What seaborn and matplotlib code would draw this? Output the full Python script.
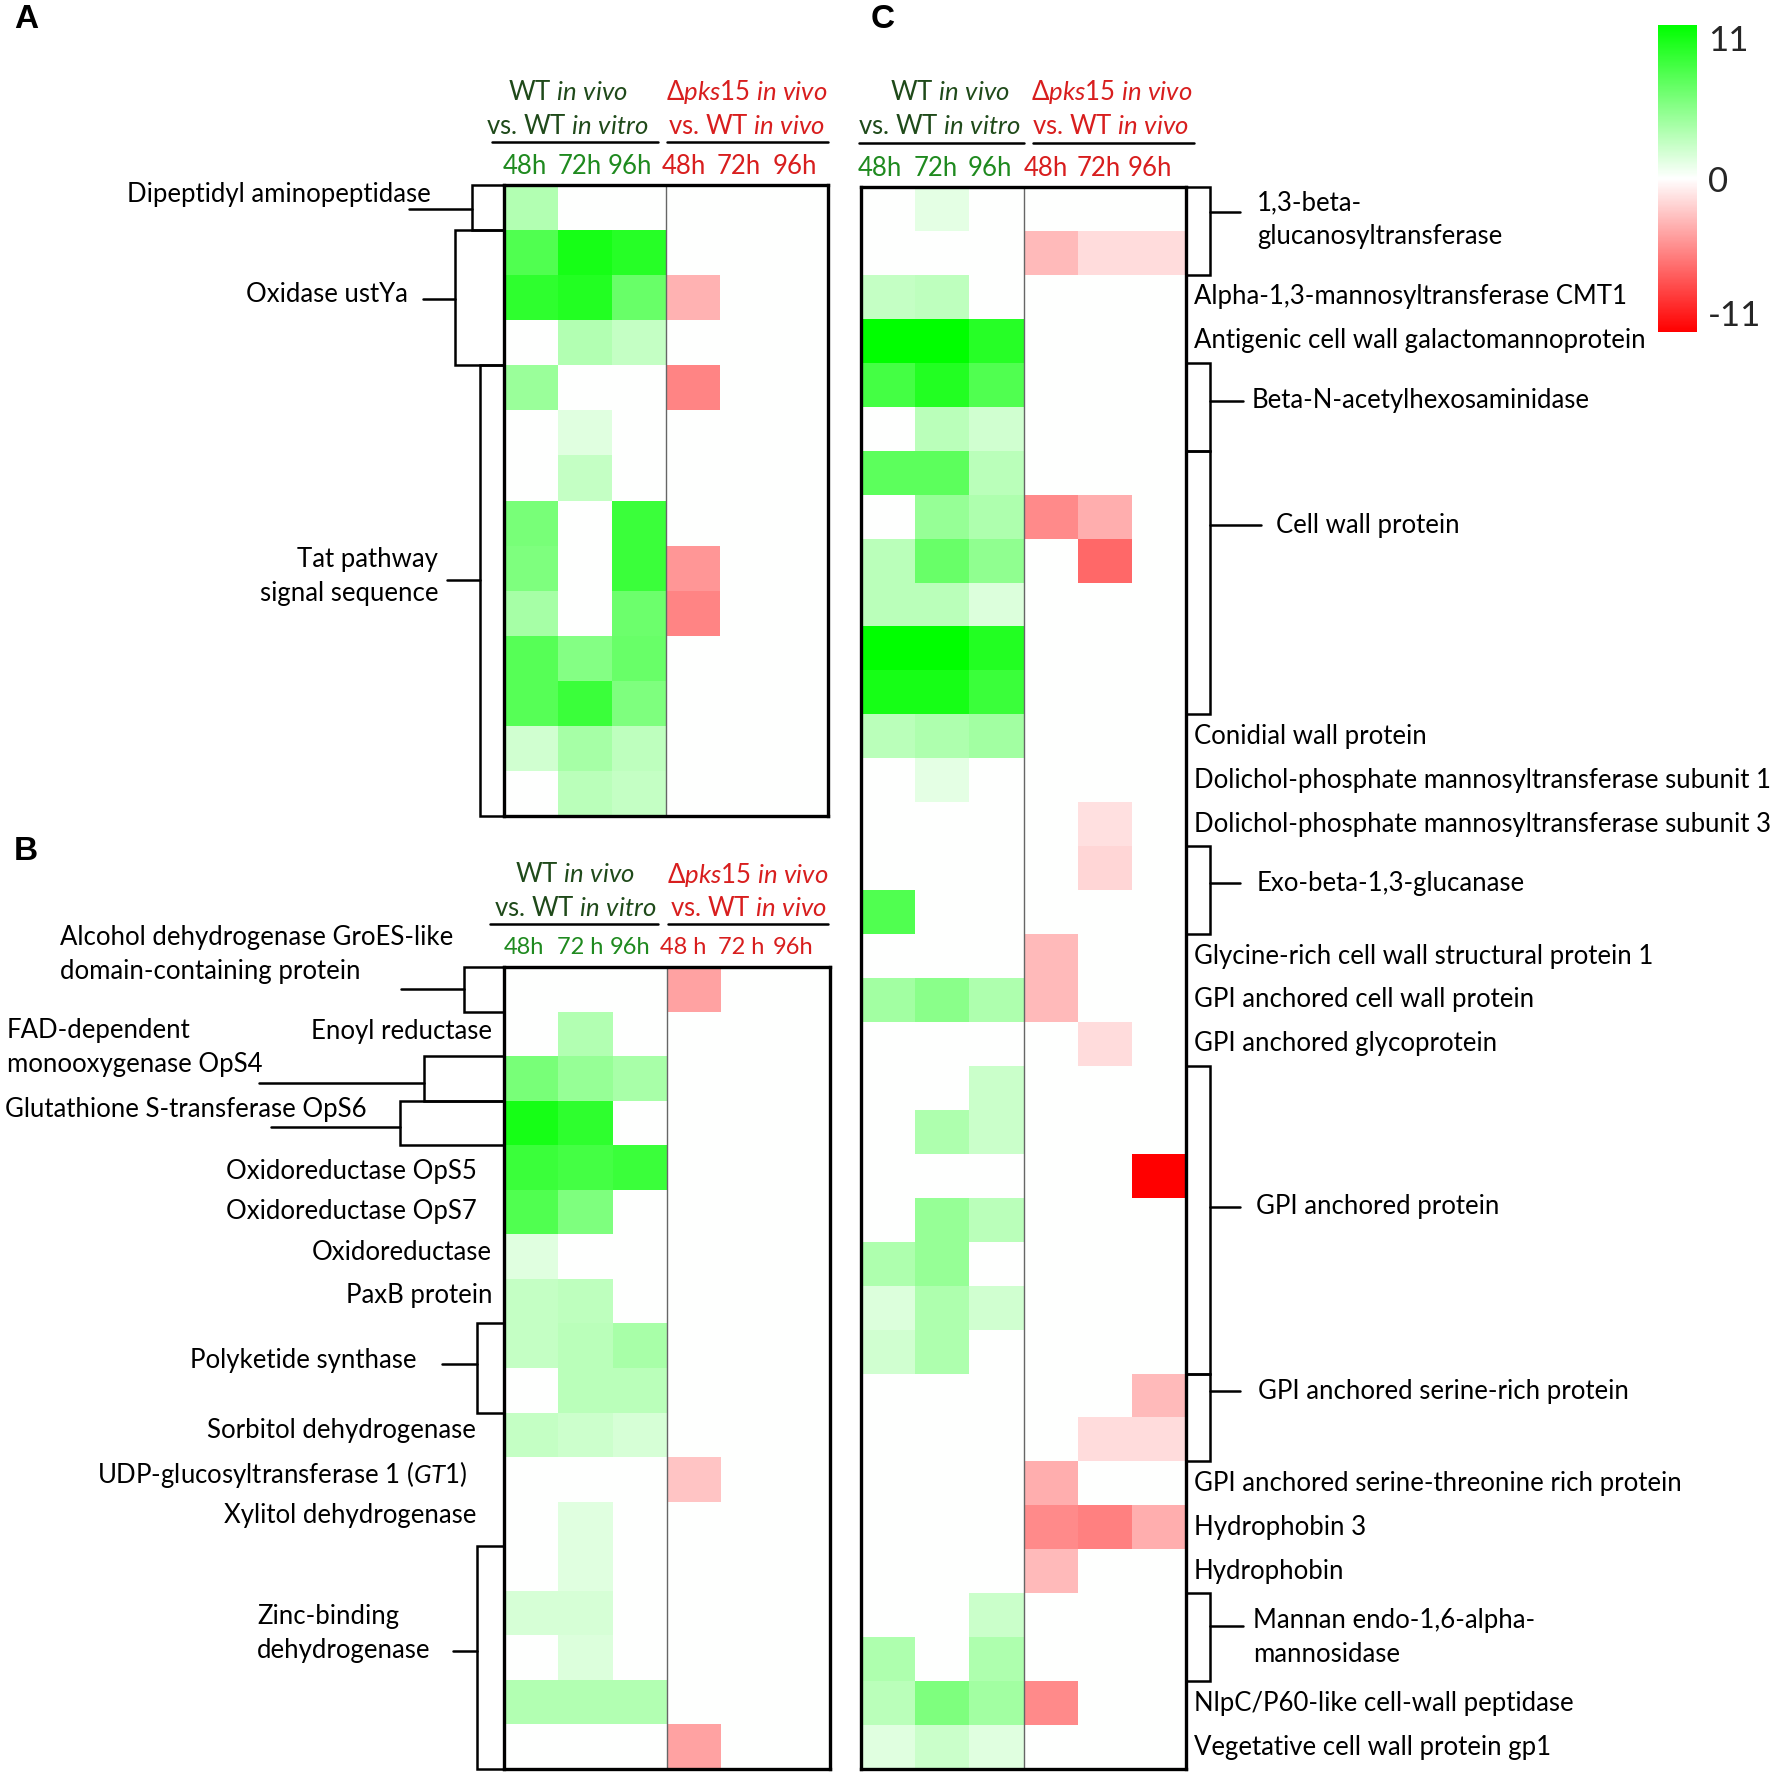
import numpy as np
import pandas as pd
import seaborn as sns
import matplotlib.pyplot as plt
from matplotlib import transforms
from matplotlib.colors import LinearSegmentedColormap

# columns: WT in vivo vs WT in vitro (48/72/96h) | dpks15 in vivo vs WT in vivo (48/72/96h)
col_keys = ['WT_48', 'WT_72', 'WT_96', 'KO_48', 'KO_72', 'KO_96']
cols_a = ['48h', '72h', '96h', '48h', '72h', '96h']
cols_b = ['48h', '72 h', '96h', '48 h', '72 h', '96h']
cols_c = ['48h', '72h', '96h', '48h', '72h', '96h']

# panel A, log2 fold change
a_values = [
    [3.3, 0, 0, 0, 0, 0],
    [7.5, 10, 9.3, 0, 0, 0],
    [9, 9.5, 6.5, -3.3, 0, 0],
    [0, 3.3, 2.5, 0, 0, 0],
    [4.3, 0, 0, -5.3, 0, 0],
    [0, 1.3, 0, 0, 0, 0],
    [0, 2.5, 0, 0, 0, 0],
    [5.8, 0, 8.5, 0, 0, 0],
    [5.5, 0, 8.5, -4.5, 0, 0],
    [3.8, 0, 6.3, -5.3, 0, 0],
    [7.3, 5.3, 6.5, 0, 0, 0],
    [7.3, 8.5, 5.5, 0, 0, 0],
    [2, 3.8, 2.8, 0, 0, 0],
    [0, 3, 2.5, 0, 0, 0],
]
a_groups = [('Dipeptidyl aminopeptidase', 1),
            ('Oxidase ustYa', 3),
            ('Tat pathway\nsignal sequence', 10)]

# panel B
b_values = [
    [0, 0, 0, -4, 0, 0],
    [0, 3.3, 0, 0, 0, 0],
    [5.8, 4.5, 3.7, 0, 0, 0],
    [10, 9, 0, 0, 0, 0],
    [8.5, 8, 8.5, 0, 0, 0],
    [7.5, 5.5, 0, 0, 0, 0],
    [1.3, 0, 0, 0, 0, 0],
    [2.5, 2.8, 0, 0, 0, 0],
    [2.5, 3, 3.7, 0, 0, 0],
    [0, 3, 3, 0, 0, 0],
    [2.5, 2.2, 1.8, 0, 0, 0],
    [0, 0, 0, -2.5, 0, 0],
    [0, 1.3, 0, 0, 0, 0],
    [0, 1.3, 0, 0, 0, 0],
    [1.8, 1.8, 0, 0, 0, 0],
    [0, 1.5, 0, 0, 0, 0],
    [3.3, 3.3, 3.3, 0, 0, 0],
    [0, 0, 0, -4, 0, 0],
]
b_groups = [('Alcohol dehydrogenase GroES-like\ndomain-containing protein', 1),
            ('Enoyl reductase', 1),
            ('FAD-dependent\nmonooxygenase OpS4', 1),
            ('Glutathione S-transferase OpS6', 1),
            ('Oxidoreductase OpS5', 1),
            ('Oxidoreductase OpS7', 1),
            ('Oxidoreductase', 1),
            ('PaxB protein', 1),
            ('Polyketide synthase', 2),
            ('Sorbitol dehydrogenase', 1),
            (r'UDP-glucosyltransferase 1 ($\mathit{GT1}$)', 1),
            ('Xylitol dehydrogenase', 1),
            ('Zinc-binding\ndehydrogenase', 5)]

# panel C
c_values = [
    [0, 1.2, 0, 0, 0, 0],
    [0, 0, 0, -3, -1.5, -1.5],
    [2.5, 2.8, 0, 0, 0, 0],
    [11, 11, 9.3, 0, 0, 0],
    [8, 9.5, 7.5, 0, 0, 0],
    [0, 3, 2, 0, 0, 0],
    [7, 7, 3, 0, 0, 0],
    [0, 4.5, 3.5, -5, -3.5, 0],
    [3, 6.5, 4.8, 0, -6.5, 0],
    [3, 3, 1.5, 0, 0, 0],
    [11, 11, 9.5, 0, 0, 0],
    [10, 10, 8.5, 0, 0, 0],
    [3, 3.5, 4, 0, 0, 0],
    [0, 1.2, 0, 0, 0, 0],
    [0, 0, 0, 0, -1.3, 0],
    [0, 0, 0, 0, -1.8, 0],
    [7.5, 0, 0, 0, 0, 0],
    [0, 0, 0, -3, 0, 0],
    [4, 5, 3.5, -3, 0, 0],
    [0, 0, 0, 0, -1.5, 0],
    [0, 0, 2.3, 0, 0, 0],
    [0, 3.5, 2.3, 0, 0, 0],
    [0, 0, 0, 0, 0, -11],
    [0, 4.5, 3, 0, 0, 0],
    [3.5, 4.5, 0, 0, 0, 0],
    [1.5, 3.5, 2, 0, 0, 0],
    [2, 3.5, 0, 0, 0, 0],
    [0, 0, 0, 0, 0, -3],
    [0, 0, 0, 0, -1.5, -1.5],
    [0, 0, 0, -3.5, 0, 0],
    [0, 0, 0, -5, -5.5, -3.5],
    [0, 0, 0, -3, 0, 0],
    [0, 0, 2.3, 0, 0, 0],
    [3.5, 0, 3.5, 0, 0, 0],
    [3, 5.5, 4, -5, 0, 0],
    [1.3, 2.3, 1.3, 0, 0, 0],
]
c_groups = [('1,3-beta-\nglucanosyltransferase', 2),
            ('Alpha-1,3-mannosyltransferase CMT1', 1),
            ('Antigenic cell wall galactomannoprotein', 1),
            ('Beta-N-acetylhexosaminidase', 2),
            ('Cell wall protein', 6),
            ('Conidial wall protein', 1),
            ('Dolichol-phosphate mannosyltransferase subunit 1', 1),
            ('Dolichol-phosphate mannosyltransferase subunit 3', 1),
            ('Exo-beta-1,3-glucanase', 2),
            ('Glycine-rich cell wall structural protein 1', 1),
            ('GPI anchored cell wall protein', 1),
            ('GPI anchored glycoprotein', 1),
            ('GPI anchored protein', 7),
            ('GPI anchored serine-rich protein', 2),
            ('GPI anchored serine-threonine rich protein', 1),
            ('Hydrophobin 3', 1),
            ('Hydrophobin', 1),
            ('Mannan endo-1,6-alpha-\nmannosidase', 2),
            ('NlpC/P60-like cell-wall peptidase', 1),
            ('Vegetative cell wall protein gp1', 1)]

cbar_ticks = [-11, 0, 11]

sns.set_theme(style='white')
plt.rcParams['font.family'] = ['Lato', 'DejaVu Sans']
plt.rcParams['mathtext.fontset'] = 'custom'
plt.rcParams['mathtext.rm'] = 'Lato'
plt.rcParams['mathtext.it'] = 'Lato:italic'
plt.rcParams['mathtext.bf'] = 'Lato:bold'

W, H = 1784, 1778
fig = plt.figure(figsize=(W / 100, H / 100), dpi=100)
pix = transforms.Affine2D().scale(1 / W, -1 / H).translate(0, 1) + fig.transFigure
xpix = transforms.Affine2D().scale(1 / W, 1) + fig.transFigure

cmap = LinearSegmentedColormap.from_list('rwg', ['#ff0000', '#ffffff', '#00ff00'])
LBL = 18.5
DARK_GREEN = '#1f4a1a'
GREEN = '#1f8a1f'
RED = '#d81e1e'


def add_box(left, top, right, bottom):
    return fig.add_axes([left / W, 1 - bottom / H, (right - left) / W, (bottom - top) / H])


def heat(ax, values):
    df = pd.DataFrame(values, columns=col_keys)
    sns.heatmap(df, ax=ax, cmap=cmap, vmin=-11, vmax=11, cbar=False,
                xticklabels=False, yticklabels=False)
    for s in ax.spines.values():
        s.set_visible(True)
        s.set_color('black')
        s.set_linewidth(2.4)
    ax.axvline(3, color='#666666', lw=1)


def bracket(ax, x_edge, x_b, r0, r1, x_c, y_c):
    tr = transforms.blended_transform_factory(xpix, ax.transData)
    ax.plot([x_edge, x_b, x_b, x_edge], [r0, r0, r1, r1], transform=tr,
            color='black', lw=1.8, clip_on=False, solid_joinstyle='miter')
    ax.plot([x_c, x_b], [y_c, y_c], transform=tr, color='black', lw=1.8, clip_on=False)


def label(ax, x, y, text, ha):
    tr = transforms.blended_transform_factory(xpix, ax.transData)
    ax.text(x, y, text, transform=tr, ha=ha, va='center', fontsize=LBL,
            multialignment=ha, color='black', linespacing=1.45)


def header(xw, xm, y1, y2, yl, lw_x, lm_x, col_x, yc, col_labels, col_size=LBL):
    fig.text(xw[0], y1, r'WT $\mathit{in\ vivo}$', transform=pix, ha='center', va='center',
             fontsize=LBL, color=DARK_GREEN)
    fig.text(xw[1], y2, r'vs. WT $\mathit{in\ vitro}$', transform=pix, ha='center', va='center',
             fontsize=LBL, color=DARK_GREEN)
    fig.text(xm[0], y1, r'Δ$\mathit{pks15\ in\ vivo}$', transform=pix, ha='center', va='center',
             fontsize=LBL, color=RED)
    fig.text(xm[1], y2, r'vs. WT $\mathit{in\ vivo}$', transform=pix, ha='center', va='center',
             fontsize=LBL, color=RED)
    for xs in (lw_x, lm_x):
        fig.add_artist(plt.Line2D(xs, [yl, yl], transform=pix, color='black', lw=1.8))
    for i, (x, t) in enumerate(zip(col_x, col_labels)):
        fig.text(x, yc, t, transform=pix, ha='center', va='center', fontsize=col_size,
                 color=GREEN if i < 3 else RED)


# ---------------- panel A
ax_a = add_box(504, 185, 828, 816)
heat(ax_a, a_values)
a_layout = [(472, 409, 0.53, 431, 0.22), (455, 423, 2.53, 408, 2.42), (480, 447, 8.76, 438, 8.68)]
r = 0
for (name, n), (xb, xc, yc, xl, yl) in zip(a_groups, a_layout):
    bracket(ax_a, 504, xb, r, r + n, xc, yc)
    label(ax_a, xl, yl, name, 'right')
    r += n
header((568, 567), (747, 746), 92, 127, 142, (492, 658), (667, 828),
       [525, 580, 630, 684, 739, 795], 167, cols_a)

# ---------------- panel B
ax_b = add_box(504, 967, 830, 1769)
heat(ax_b, b_values)
b_layout = [(464, 401, 0.49, 60, -0.27, 'left'),
            (None, None, None, 492, 1.44, 'right'),
            (424, 259, 2.6, 7, 1.8, 'left'),
            (400, 271, 3.59, 5, 3.19, 'left'),
            (None, None, None, 477, 4.58, 'right'),
            (None, None, None, 477, 5.48, 'right'),
            (None, None, None, 492, 6.4, 'right'),
            (None, None, None, 492, 7.38, 'right'),
            (477, 442, 8.9, 417, 8.84, 'right'),
            (None, None, None, 476, 10.41, 'right'),
            (None, None, None, 467, 11.4, 'right'),
            (None, None, None, 476, 12.32, 'right'),
            (477, 453, 15.35, 257, 14.97, 'left')]
r = 0
for (name, n), (xb, xc, yc, xl, yl, ha) in zip(b_groups, b_layout):
    if xb is not None:
        bracket(ax_b, 504, xb, r, r + n, xc, yc)
    label(ax_b, xl, yl, name, ha)
    r += n
header((575, 575), (748, 748), 875, 909, 924, (490, 658), (668, 828),
       [524, 580, 630, 683, 741, 793], 948, cols_b, col_size=17)

# ---------------- panel C
ax_c = add_box(861, 187, 1186, 1769)
heat(ax_c, c_values)
c_layout = {'1,3-beta-\nglucanosyltransferase': (0.57, 0.75, 1240, 1257),
            'Beta-N-acetylhexosaminidase': (4.86, 4.86, 1243, 1252),
            'Cell wall protein': (7.7, 7.7, 1261, 1276),
            'Exo-beta-1,3-glucanase': (15.84, 15.84, 1240, 1257),
            'GPI anchored protein': (23.2, 23.2, 1240, 1256),
            'GPI anchored serine-rich protein': (27.4, 27.4, 1240, 1258),
            'Mannan endo-1,6-alpha-\nmannosidase': (32.75, 33.0, 1243, 1253)}
r = 0
for name, n in c_groups:
    if name in c_layout:
        yc, yl, xc, xl = c_layout[name]
        bracket(ax_c, 1186, 1210, r, r + n, xc, yc)
        label(ax_c, xl, yl, name, 'left')
    else:
        label(ax_c, 1194, r + n / 2, name, 'left')
    r += n
header((950, 939), (1112, 1110), 92, 126, 143, (859, 1024), (1033, 1194),
       [880, 936, 990, 1046, 1099, 1150], 169, cols_c)

# ---------------- colour bar
cax = add_box(1658, 25, 1697, 332)
cb = fig.colorbar(ax_a.collections[0], cax=cax, ticks=cbar_ticks)
cb.outline.set_visible(False)
cax.tick_params(length=0, labelsize=25, pad=8)
cax.set_yticklabels([str(t) for t in cbar_ticks])
tl = cax.get_yticklabels()
tl[0].set_va('bottom')
tl[-1].set_va('top')

# panel letters
for letter, (x, y) in zip(['A', 'B', 'C'], [(26, 20), (26, 851), (883, 20)]):
    fig.text(x, y, letter, transform=pix, ha='center', va='center', fontsize=24,
             fontweight='bold', color='black', family='Liberation Sans')

fig.savefig('out.png', dpi=100, facecolor='white')
